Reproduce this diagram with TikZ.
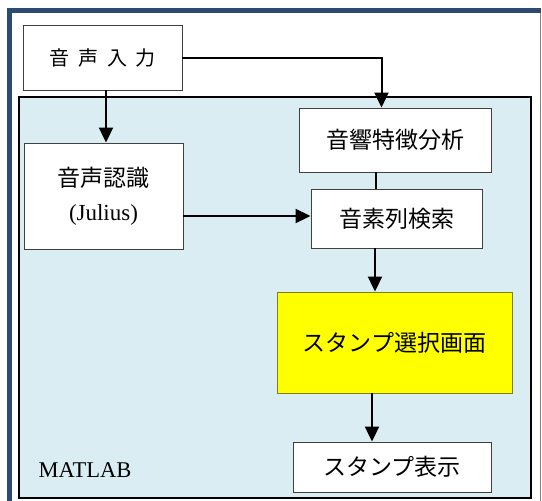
\documentclass[tikz,border=0pt]{standalone}
\usepackage{fontspec}
\setmainfont{Liberation Serif}
\newfontfamily\cjk{Noto Sans CJK JP}
\usetikzlibrary{arrows.meta}
\definecolor{frameblue}{HTML}{2D4B6E}
\definecolor{lightaqua}{HTML}{DAEDF3}
\definecolor{boxline}{HTML}{404040}
\definecolor{olive}{HTML}{7F7F20}
\definecolor{pureyellow}{HTML}{FFFF00}
\tikzset{
  procbox/.style={draw=boxline,line width=0.9pt,fill=white,inner sep=0pt,align=center,font=\cjk\fontsize{23}{28}\selectfont},
  arr/.style={line width=2pt,-{Triangle[length=15pt,width=14pt]}},
  plainline/.style={line width=2pt}
}
\begin{document}
\begin{tikzpicture}[x=1pt,y=-1pt]
\useasboundingbox (0,0) rectangle (542,501);
\fill[white] (0,0) rectangle (542,501);
% outer frame
\fill[frameblue] (7,8) rectangle (12,501);
\fill[frameblue] (7,8) rectangle (541,13);
\draw[gray,line width=1pt] (540.5,13) -- (540.5,501);
% MATLAB area
\node[draw=black,line width=1.3pt,fill=lightaqua,minimum width=512pt,minimum height=401pt,inner sep=0pt] (matlab) at (275,297.5) {};
\node[font=\fontsize{22.5}{26}\selectfont] (mlabel) at (85,470) {MATLAB};
% boxes
\node[procbox,minimum width=159pt,minimum height=65pt,font=\cjk\fontsize{20}{24}\selectfont] (in) at (102.5,57.5) {音\hspace{9pt}声\hspace{9pt}入\hspace{9pt}力};
\node[procbox,minimum width=159pt,minimum height=106pt] (recog) at (103.5,196) {音声認識\\[6pt]{\rmfamily\fontsize{23}{28}\selectfont (Julius)}};
\node[procbox,minimum width=192pt,minimum height=64pt] (feat) at (395,140) {音響特徴分析};
\node[procbox,minimum width=171pt,minimum height=59pt] (phon) at (396.5,218.5) {音素列検索};
\node[procbox,draw=olive,fill=pureyellow,minimum width=235pt,minimum height=101pt] (sel) at (394.5,342.5) {スタンプ選択画面};
\node[procbox,minimum width=198pt,minimum height=50pt] (disp) at (392,467) {スタンプ表示};
% connectors
\draw[arr] ([yshift=-0.5pt]in.east) -| ([xshift=-13.5pt]feat.north);
\draw[arr] ([xshift=3.5pt]in.south) -- ([xshift=2.5pt]recog.north);
\draw[arr] ([yshift=-20pt]recog.east) -- ([yshift=2.5pt]phon.west);
\draw[plainline] ([xshift=-19pt]feat.south) -- ([xshift=-20.5pt]phon.north);
\draw[arr] ([xshift=-21.5pt]phon.south) -- ([xshift=-19.5pt]sel.north);
\draw[arr] ([xshift=-22.5pt]sel.south) -- ([xshift=-20pt]disp.north);
\end{tikzpicture}
\end{document}
